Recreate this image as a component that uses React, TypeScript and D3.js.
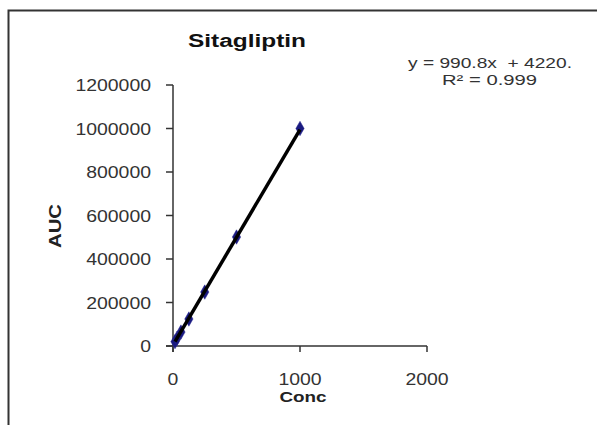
import React from 'react';
import { scaleLinear, line, symbol, symbolDiamond } from 'd3';

// calibration data
const concValues = [15.625, 31.25, 62.5, 125, 250, 500, 1000];
const aucValues = [20000, 35000, 64000, 124000, 248000, 501000, 1000000];
const xTicks = [0, 1000, 2000];
const yTicks = [0, 200000, 400000, 600000, 800000, 1000000, 1200000];
const slope = 990.8;
const intercept = 4220;
const eqLine1 = 'y = 990.8x  + 4220.';
const eqLine2 = 'R² = 0.999';

const width = 597;
const height = 425;
const font = '"Liberation Sans", Arial, sans-serif';

export default function App() {
    const xScale = scaleLinear().domain([0, 2000]).range([173, 427]);
    const yScale = scaleLinear().domain([0, 1200000]).range([346, 85]);

    const points = concValues.map((c, i) => ({ x: c, y: aucValues[i] }));
    const xMin = Math.min(...concValues);
    const xMax = Math.max(...concValues);
    const trend = line<number>()
        .x(d => xScale(d))
        .y(d => yScale(slope * d + intercept))([xMin, xMax]);

    const diamond = symbol().type(symbolDiamond).size(60)();
    const digitW = 10.8;

    return (
        <svg width={width} height={height} style={{ position: 'absolute', left: 0, top: 0 }}>
            <rect x={0} y={0} width={width} height={height} fill="#fff" />
            {/* outer chart border, cut off on right and bottom */}
            <rect x={8.5} y={10.5} width={width + 20} height={height + 20}
                fill="none" stroke="#333" strokeWidth={2} />

            <text x={247} y={47} textAnchor="middle" fontFamily={font} fontWeight="bold"
                fontSize={18} textLength={118} lengthAdjust="spacingAndGlyphs" fill="#111">
                Sitagliptin
            </text>

            <text x={408} y={68} fontFamily={font} fontSize={14} textLength={164}
                lengthAdjust="spacingAndGlyphs" fill="#333" style={{ whiteSpace: 'pre' }}>
                {eqLine1}
            </text>
            <text x={442} y={85} fontFamily={font} fontSize={14} textLength={95}
                lengthAdjust="spacingAndGlyphs" fill="#333">
                {eqLine2}
            </text>

            {/* axes */}
            <g stroke="#333" strokeWidth={1.5}>
                <line x1={xScale(0)} x2={xScale(0)} y1={yScale(1200000)} y2={yScale(0) + 6} />
                {yTicks.map(t => (
                    <line key={t} x1={xScale(0) - 7} x2={xScale(0)} y1={yScale(t)} y2={yScale(t)} />
                ))}
                <line x1={xScale(0) - 7} x2={xScale(2000)} y1={yScale(0)} y2={yScale(0)} />
                {xTicks.map(t => (
                    <line key={t} x1={xScale(t)} x2={xScale(t)} y1={yScale(0)} y2={yScale(0) + 6} />
                ))}
            </g>

            {yTicks.map(t => (
                <text key={t} x={151} y={yScale(t) + 6} textAnchor="end" fontFamily={font}
                    fontSize={16} fill="#333" textLength={String(t).length * digitW}
                    lengthAdjust="spacingAndGlyphs">
                    {t}
                </text>
            ))}
            {xTicks.map(t => (
                <text key={t} x={xScale(t)} y={385} textAnchor="middle" fontFamily={font}
                    fontSize={16} fill="#333" textLength={String(t).length * digitW}
                    lengthAdjust="spacingAndGlyphs">
                    {t}
                </text>
            ))}

            <text x={303} y={402} textAnchor="middle" fontFamily={font} fontWeight="bold"
                fontSize={14} textLength={47} lengthAdjust="spacingAndGlyphs" fill="#222">
                Conc
            </text>
            <text transform="translate(61,226) rotate(-90)" textAnchor="middle" fontFamily={font}
                fontWeight="bold" fontSize={17} textLength={44} lengthAdjust="spacingAndGlyphs"
                fill="#222">
                AUC
            </text>

            {points.map((p, i) => (
                <path key={i} d={diamond}
                    transform={`translate(${xScale(p.x)},${yScale(p.y)})`}
                    fill="#1a1a80" stroke="#2a2a90" strokeWidth={0.5} />
            ))}

            <path d={trend ?? ''} fill="none" stroke="#000" strokeWidth={3.5} />
        </svg>
    );
}
